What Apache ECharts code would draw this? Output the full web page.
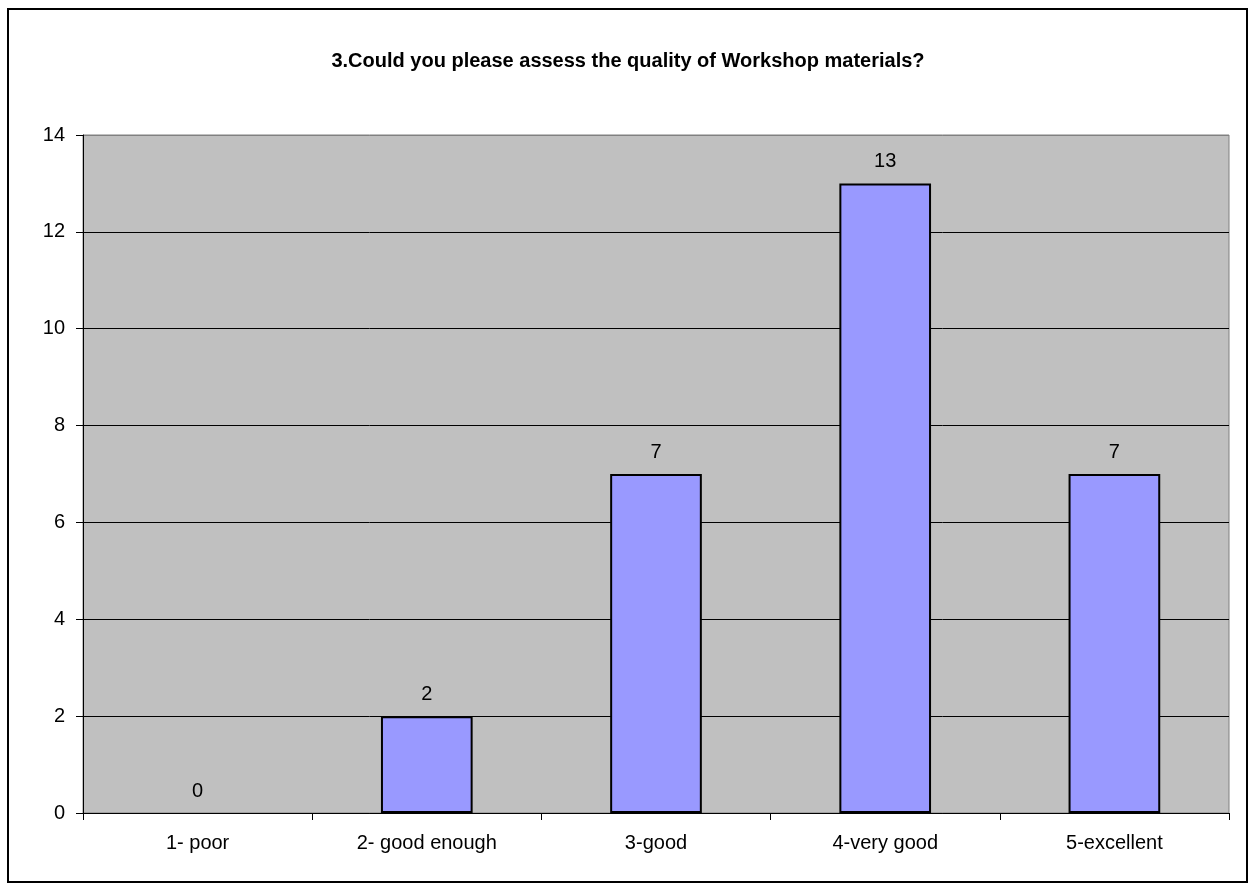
<!DOCTYPE html>
<html>
<head>
<meta charset="utf-8">
<script src="https://cdn.jsdelivr.net/npm/echarts@6/dist/echarts.min.js"></script>
<style>
  html, body { margin: 0; padding: 0; background: #ffffff; }
  #chart { width: 1256px; height: 891px; }
</style>
</head>
<body>
<div id="chart"></div>
<script>
// Survey answers for question 3
const titleText = '3.Could you please assess the quality of Workshop materials?';
const categories = ['1- poor', '2- good enough', '3-good', '4-very good', '5-excellent'];
const responses = [0, 2, 7, 13, 7];
const yTicks = { min: 0, max: 14, interval: 2 };

const font = '"Liberation Sans", Arial, sans-serif';
const chart = echarts.init(document.getElementById('chart'), null, { renderer: 'canvas' });

// Gridlines are black; the topmost one sits on the grey plot frame
const gridLineCount = (yTicks.max - yTicks.min) / yTicks.interval + 1;
const gridLineColors = Array.from({ length: gridLineCount }, (_, i) =>
  i === gridLineCount - 1 ? '#808080' : '#000000');

// Empty answers get no outline so no stray line sits on the axis
const barData = responses.map(v => v === 0
  ? { value: v, itemStyle: { borderWidth: 0 } }
  : v);

chart.setOption({
  animation: false,
  backgroundColor: '#ffffff',
  title: {
    text: titleText,
    left: 'center',
    top: 46,
    textStyle: { fontFamily: font, fontSize: 20, fontWeight: 'bold', color: '#000' }
  },
  graphic: [{
    type: 'rect',
    shape: { x: 8, y: 9, width: 1239, height: 873 },
    style: { fill: 'none', stroke: '#000', lineWidth: 2 },
    silent: true
  }],
  grid: {
    left: 83, top: 135, width: 1146, height: 678,
    show: true,
    backgroundColor: '#C0C0C0',
    borderColor: '#808080',
    borderWidth: 1
  },
  xAxis: {
    type: 'category',
    data: categories,
    boundaryGap: true,
    axisLine: { show: true, lineStyle: { color: '#000', width: 1 } },
    axisTick: { show: true, length: 7, alignWithLabel: false, lineStyle: { color: '#000' } },
    axisLabel: { margin: 20, fontFamily: font, fontSize: 20, color: '#000' }
  },
  yAxis: {
    type: 'value',
    min: yTicks.min, max: yTicks.max, interval: yTicks.interval,
    axisLine: { show: true, lineStyle: { color: '#000', width: 1 } },
    axisTick: { show: true, length: 7, lineStyle: { color: '#000' } },
    axisLabel: { margin: 18, fontFamily: font, fontSize: 20, color: '#000' },
    splitLine: { show: true, lineStyle: { color: gridLineColors, width: 1 } }
  },
  series: [{
    type: 'bar',
    data: barData,
    barWidth: '40%',
    itemStyle: { color: '#9999FF', borderColor: '#000', borderWidth: 2 },
    label: {
      show: true, position: 'top', distance: 12,
      fontFamily: font, fontSize: 20, color: '#000'
    }
  }]
});
</script>
</body>
</html>
